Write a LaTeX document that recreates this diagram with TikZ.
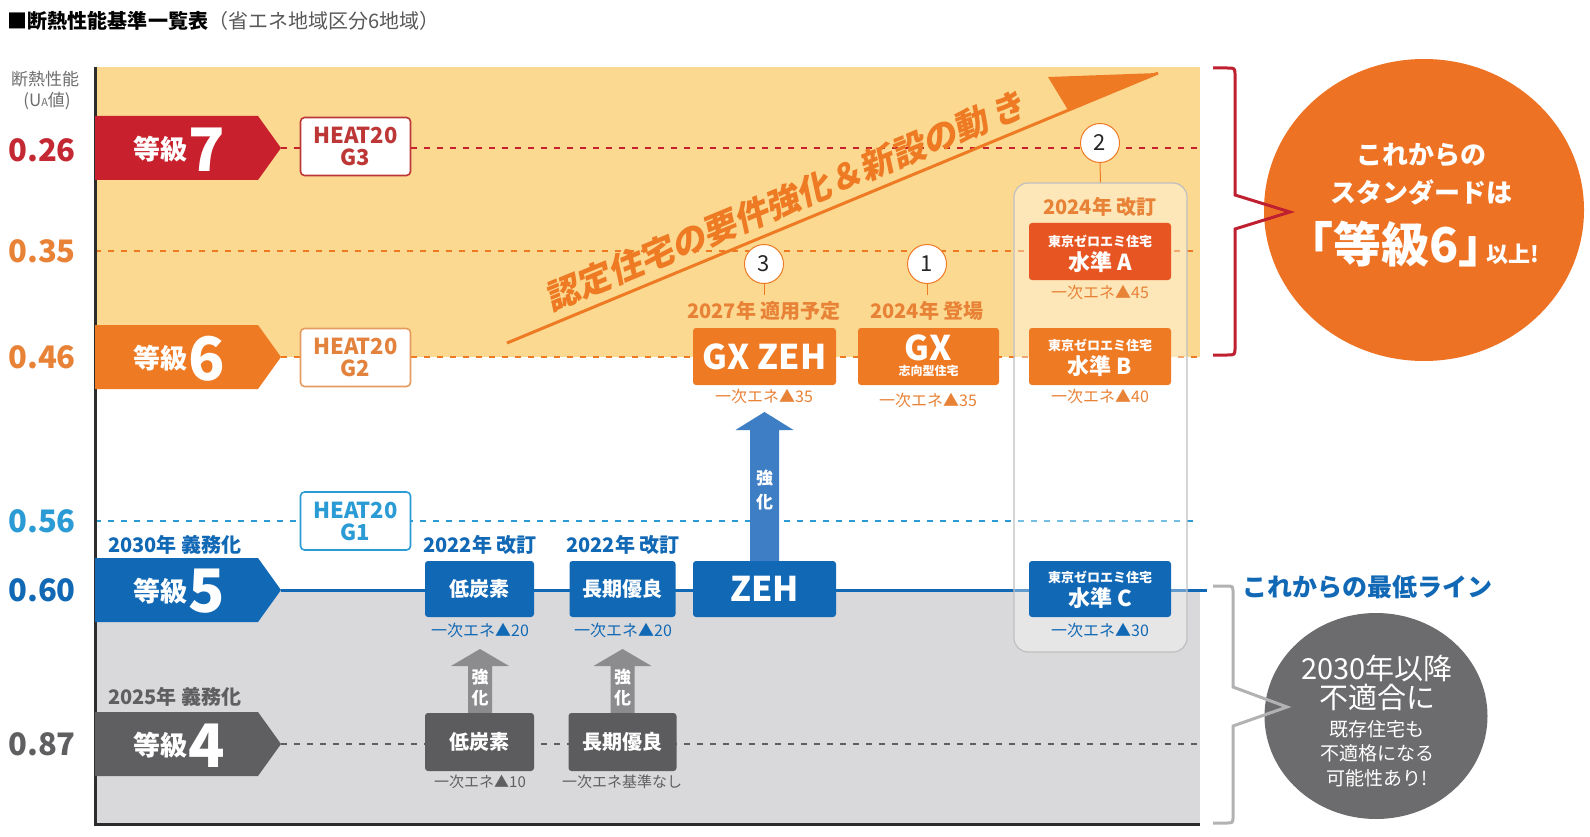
\documentclass[tikz,border=0pt]{standalone}
\usepackage{fontspec}
\setmainfont{Noto Sans CJK JP}
\newfontfamily\bannerfont{Noto Sans CJK JP}[FakeSlant=0.18]
\usetikzlibrary{shapes.geometric}
\definecolor{cRed}{RGB}{200,33,45}
\definecolor{cRedTxt}{RGB}{196,40,50}
\definecolor{cOr}{RGB}{238,122,36}
\definecolor{cOrTxt}{RGB}{232,130,55}
\definecolor{cOrRed}{RGB}{231,86,34}
\definecolor{cBlue}{RGB}{17,104,181}
\definecolor{cLBlue}{RGB}{42,155,212}
\definecolor{cArrB}{RGB}{62,126,196}
\definecolor{cGray}{RGB}{95,95,97}
\definecolor{cBoxG}{RGB}{92,92,94}
\definecolor{cArrG}{RGB}{140,140,142}
\definecolor{cYel}{RGB}{252,217,145}
\definecolor{cArea}{RGB}{217,217,219}
\definecolor{cAxis}{RGB}{45,45,45}
\definecolor{cCircOr}{RGB}{238,114,36}
\definecolor{cCircG}{RGB}{108,108,110}
\definecolor{cBrRed}{RGB}{190,32,48}
\definecolor{cBrG}{RGB}{178,178,180}
\definecolor{cLab}{RGB}{110,110,110}
\definecolor{cHeatR}{RGB}{190,55,55}
\definecolor{cHeatO}{RGB}{230,155,95}
\definecolor{cHeatOT}{RGB}{226,130,60}
\tikzset{
  txt/.style={inner sep=0pt, outer sep=0pt},
  fsz/.style={font=\fontsize{#1}{#1}\selectfont},
  fbd/.style={font=\bfseries\fontsize{#1}{#1}\selectfont},
  heat/.style={draw=#1, text=#1, fill=white, rounded corners=4pt, line width=1.6pt,
    minimum width=110pt, minimum height=58pt, inner sep=0pt, align=center,
    font=\bfseries\fontsize{22}{22}\selectfont},
  dashline/.style={draw=#1, line width=1.8pt, dash pattern=on 6pt off 7pt},
  sbox/.style={fill=#1, rounded corners=3pt, text=white, inner sep=0pt, minimum height=57pt, align=center},
  numc/.style={circle, draw=cOr, line width=1pt, fill=white, minimum size=39pt, inner sep=0pt,
    font=\fontsize{22}{22}\selectfont, text=black!85},
  note/.style={txt, fsz=16, text=#1},
  yearlbl/.style={txt, fbd=20, text=#1},
  tick/.style={draw=cOr, line width=1pt},
}
\newcommand{\gradearrow}[4]{%
  \fill[#2] (95,#3-32) -- (258,#3-32) -- (281,#3) -- (258,#3+32) -- (95,#3+32) -- cycle;
  \coordinate (#1tip) at (281,#3);
  \node[txt, fbd=27, text=white] (#1a) at (160,#3+1.5) {等級};
  \node[txt, fbd=60, text=white] (#1n) at (207,#3+1.5) {#4};
}
\newcommand{\strongarrow}[7]{% color, xc, ybottom, ytip, halfshaft, halfhead, headlen
  \fill[#1] (#2-#5,#3) -- (#2-#5,#4+#7) -- (#2-#6,#4+#7) -- (#2,#4) -- (#2+#6,#4+#7)
    -- (#2+#5,#4+#7) -- (#2+#5,#3) -- cycle;
}
\begin{document}
\begin{tikzpicture}[x=1pt,y=-1pt]
\useasboundingbox (0,0) rectangle (1590,837);
\fill[white] (0,0) rectangle (1590,837);
% title
\node[txt, anchor=west] (title) at (8,21) {\fontsize{20}{20}\selectfont{\bfseries ■断熱性能基準一覧表}\textcolor{black!65}{（省エネ地域区分6地域）}};
% areas
\fill[cYel] (95,67) rectangle (1200,357);
\fill[cArea] (95,590) rectangle (1200,824);
% axis labels
\node[txt, fsz=17, text=cLab] (axlab1) at (45,79) {断熱性能};
\node[txt, fsz=17, text=cLab] (axlab2) at (47,101) {(U{\fontsize{11}{11}\selectfont A}値)};
\node[txt, fbd=31, text=cRedTxt] (v26) at (42,150) {0.26};
\node[txt, fbd=31, text=cOrTxt] (v35) at (42,251) {0.35};
\node[txt, fbd=31, text=cOrTxt] (v46) at (42,357) {0.46};
\node[txt, fbd=31, text=cLBlue] (v56) at (42,521) {0.56};
\node[txt, fbd=31, text=cBlue] (v60) at (42,590) {0.60};
\node[txt, fbd=31, text=cGray] (v87) at (42,744) {0.87};
% level lines
\coordinate (l35s) at (95,251);
\coordinate (l56s) at (95,521);
\coordinate (l26e) at (1200,148);
\coordinate (l35e) at (1200,251);
\coordinate (l46e) at (1200,357);
\coordinate (l56e) at (1200,521);
\coordinate (l60e) at (1207,590);
\coordinate (l87e) at (1200,744);
\draw[dashline=cRed] (281,148) -- (l26e);
\draw[dashline=cOr] (l35s) -- (l35e);
\draw[dashline=cOr] (281,357) -- (l46e);
\draw[dashline=cLBlue] (l56s) -- (l56e);
\draw[cBlue, line width=3pt] (281,590) -- (l60e);
\draw[dashline=cGray] (281,744) -- (l87e);
% column container
\node[draw=black!25, line width=1.2pt, fill=white, fill opacity=0.35, rounded corners=14pt,
  minimum width=173pt, minimum height=469pt, inner sep=0pt] (colbox) at (1100.5,417.5) {};
% axes
\draw[cAxis, line width=3pt] (95,67) -- (95,824) -- (1200,824);
% grade arrows
\gradearrow{g7}{cRed}{148}{7}
\gradearrow{g6}{cOr}{357}{6}
\gradearrow{g5}{cBlue}{590}{5}
\gradearrow{g4}{cGray}{744}{4}
\node[yearlbl=cBlue, anchor=west] (y2030) at (108,545) {2030年 義務化};
\node[yearlbl=cGray, anchor=west] (y2025) at (108,697) {2025年 義務化};
% HEAT20 boxes
\node[heat=cHeatR] (h3) at (355.5,146.5) {HEAT20\\G3};
\node[heat=cHeatO, text=cHeatOT] (h2) at (355.5,357.5) {HEAT20\\G2};
\node[heat=cLBlue] (h1) at (355.5,521) {HEAT20\\G1};
% banner
\coordinate (bnS) at (507,343);
\coordinate (bnE) at (1158,73);
\draw[cOr, line width=3pt] (bnS) -- (bnE);
\fill[cOr] (bnE) -- (1048,77) -- (1068,110) -- cycle;
\node[txt, rotate=22.5, text=cOr] (bntxt) at (785,201) {\bannerfont\bfseries\fontsize{34}{34}\selectfont 認定住宅の要件強化＆新設の動\hspace{6pt}き};
% numbered circles and year labels
\node[numc] (n3) at (764,264) {3};
\node[numc] (n1) at (927,264) {1};
\node[numc] (n2) at (1100,143) {2};
\node[yearlbl=cOrTxt] (y3) at (764,311) {2027年 適用予定};
\node[yearlbl=cOrTxt] (y1) at (927,311) {2024年 登場};
\node[yearlbl=cOrTxt] (y2) at (1100,207) {2024年 改訂};
\draw[tick, shorten >=6pt] (n3.south) -- (y3.north);
\draw[tick, shorten >=6pt] (n1.south) -- (y1.north);
\draw[tick] (n2.south) -- (colbox.north);
% orange boxes
\node[sbox=cOr, minimum width=143pt, fbd=34] (gxzeh) at (764.5,356.5) {GX ZEH};
\node[sbox=cOr, minimum width=141pt] (gx) at (928.5,356.5) {};
\node[txt, fbd=34, text=white] (gxT) at (928.5,348) {GX};
\node[txt, fbd=12, text=white] (gxS) at (928.5,371) {志向型住宅};
\node[sbox=cOrRed, minimum width=142pt] (zA) at (1100,251.5) {};
\node[txt, fbd=13, text=white] (zAs) at (1100,241) {東京ゼロエミ住宅};
\node[txt, fbd=22, text=white] (zAt) at (1100,262) {水準 A};
\node[sbox=cOr, minimum width=142pt] (zB) at (1100,356.5) {};
\node[txt, fbd=13, text=white] (zBs) at (1100,345) {東京ゼロエミ住宅};
\node[txt, fbd=22, text=white] (zBt) at (1100,366) {水準 B};
% notes orange
\node[note=cOrTxt] (nGXZ) at (764,396) {一次エネ▲35};
\node[note=cOrTxt] (nGX) at (928,400) {一次エネ▲35};
\node[note=cOrTxt] (nA) at (1100,292) {一次エネ▲45};
\node[note=cOrTxt] (nB) at (1100,396) {一次エネ▲40};
% blue arrow
\strongarrow{cArrB}{764.5}{562}{412}{14.5}{29}{18}
\node[txt, align=center, text=white, font=\bfseries\fontsize{17}{24}\selectfont] (kB) at (764.5,490) {強\\化};
% blue row
\node[yearlbl=cBlue] (y22a) at (480,545) {2022年 改訂};
\node[yearlbl=cBlue] (y22b) at (623,545) {2022年 改訂};
\node[sbox=cBlue, minimum width=109pt, minimum height=56pt, fbd=20] (lc5) at (479.5,589) {低炭素};
\node[sbox=cBlue, minimum width=106pt, minimum height=56pt, fbd=20] (lt5) at (622.5,589) {長期優良};
\node[sbox=cBlue, minimum width=143pt, minimum height=56pt, fbd=34] (zeh) at (764.5,589) {ZEH};
\node[sbox=cBlue, minimum width=142pt, minimum height=56pt] (zC) at (1100,589) {};
\node[txt, fbd=13, text=white] (zCs) at (1100,577) {東京ゼロエミ住宅};
\node[txt, fbd=22, text=white] (zCt) at (1100,598) {水準 C};
\node[note=cBlue] (n20a) at (480,630) {一次エネ▲20};
\node[note=cBlue] (n20b) at (623,630) {一次エネ▲20};
\node[note=cBlue] (nC) at (1100,630) {一次エネ▲30};
% gray row
\strongarrow{cArrG}{480}{713}{649}{12}{29}{17}
\strongarrow{cArrG}{622.5}{713}{649}{12}{29}{17}
\node[txt, align=center, text=white, font=\bfseries\fontsize{17}{21}\selectfont] (kG1) at (480,688) {強\\化};
\node[txt, align=center, text=white, font=\bfseries\fontsize{17}{21}\selectfont] (kG2) at (622.5,688) {強\\化};
\node[sbox=cBoxG, minimum width=109pt, minimum height=58pt, fbd=20] (lc4) at (479.5,742) {低炭素};
\node[sbox=cBoxG, minimum width=108pt, minimum height=58pt, fbd=20] (lt4) at (622.5,742) {長期優良};
\node[note=cGray, fsz=15] (n10) at (480,782) {一次エネ▲10};
\node[note=cGray, fsz=15] (nNone) at (622,782) {一次エネ基準なし};
% right side: orange circle
\node[ellipse, fill=cCircOr, minimum width=320pt, minimum height=302pt, inner sep=0pt] (stdc) at (1424,210) {};
\node[txt, fbd=26, text=white] (stdl1) at (1421,155) {これからの};
\node[txt, fbd=26, text=white] (stdl2) at (1421,192) {スタンダードは};
\node[txt, text=white] (stdl3) at (1412,244) {\bfseries{\fontsize{48}{48}\selectfont 「等級6」}\hspace{-20pt}{\fontsize{22}{22}\selectfont 以上!}};
\draw[cBrRed, line width=3pt, line join=miter] (1213,68) -- (1227,68) .. controls (1235,68) .. (1235,76)
  -- (1235,195) -- (1290,212) -- (1235,229) -- (1235,347) .. controls (1235,355) .. (1227,355) -- (1213,355);
% right side: minimum line
\node[txt, fbd=25, text=cBlue] (minline) at (1367,587) {これからの最低ライン};
\node[ellipse, fill=cCircG, minimum width=223pt, minimum height=206pt, inner sep=0pt] (grc) at (1376,716) {};
\node[txt, fsz=29, text=white] (grl1) at (1377,668) {2030年以降};
\node[txt, fsz=29, text=white] (grl2) at (1377,697) {不適合に};
\node[txt, fsz=19, text=white] (grl3) at (1377,729) {既存住宅も};
\node[txt, fsz=19, text=white] (grl4) at (1377,753) {不適格になる};
\node[txt, fsz=19, text=white] (grl5) at (1377,778) {可能性あり!};
\draw[cBrG, line width=3pt, line join=miter] (1213,586) -- (1226,586) .. controls (1233,586) .. (1233,593)
  -- (1233,687) -- (1287,707) -- (1233,726) -- (1233,816) .. controls (1233,823) .. (1226,823) -- (1213,823);
\end{tikzpicture}
\end{document}
